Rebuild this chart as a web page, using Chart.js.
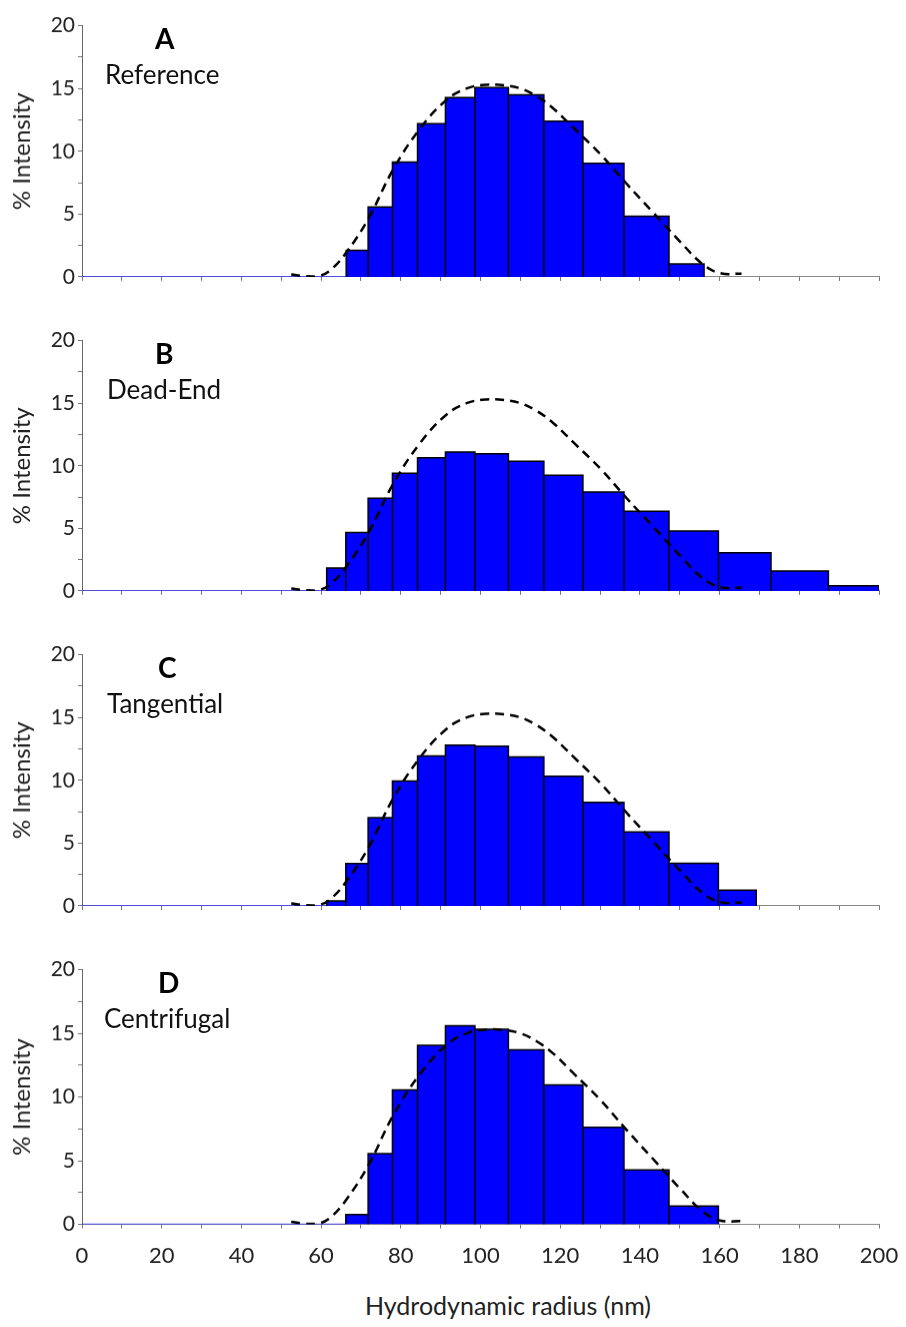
<!DOCTYPE html>
<html>
<head>
<meta charset="utf-8">
<script src="https://cdn.jsdelivr.net/npm/chart.js@4"></script>
<style>
  body { margin: 0; background: #fff; font-family: Lato, "Open Sans", sans-serif; }
  #page { position: relative; width: 906px; height: 1327px; }
  .panel { position: absolute; left: 0; width: 906px; }
  .letter { position: absolute; font-weight: bold; font-size: 28px; color: #000; line-height: 32px; }
  .name { position: absolute; font-size: 26px; color: #111; line-height: 32px; }
  .xtitle { position: absolute; left: 308px; width: 400px; top: 1290px; text-align: center;
            font-size: 25px; color: #222; line-height: 30px; }
</style>
</head>
<body>
<div id="page"></div>
<script>
// bin edges (nm) and % intensity per panel
const edgesA = [66.3, 71.8, 77.9, 84.2, 91.2, 98.6, 107.0, 115.9, 125.7, 136.0, 147.3, 156.1];
const valuesA = [2.1, 5.56, 9.15, 12.2, 14.28, 15.08, 14.5, 12.4, 9.05, 4.82, 1.03];

const edgesB = [61.4, 66.2, 71.8, 77.9, 84.2, 91.2, 98.6, 107.0, 115.9, 125.7, 136.0, 147.3, 159.7, 172.9, 187.3, 200];
const valuesB = [1.82, 4.67, 7.4, 9.41, 10.64, 11.1, 10.95, 10.35, 9.25, 7.91, 6.37, 4.78, 3.05, 1.59, 0.41];

const edgesC = [61.4, 66.2, 71.8, 77.9, 84.2, 91.2, 98.6, 107.0, 115.9, 125.7, 136.0, 147.3, 159.7, 169.2];
const valuesC = [0.39, 3.37, 7.02, 9.95, 11.93, 12.8, 12.72, 11.85, 10.31, 8.25, 5.89, 3.39, 1.26];

const edgesD = [66.2, 71.8, 77.9, 84.2, 91.2, 98.6, 107.0, 115.9, 125.7, 136.0, 147.3, 159.7];
const valuesD = [0.77, 5.55, 10.56, 14.06, 15.6, 15.32, 13.7, 10.95, 7.63, 4.27, 1.44];

// dashed reference distribution
const refX = [52.5, 56, 59.7, 62.2, 66.0, 71.8, 78.0, 84.8, 91.5, 96.5, 101.6, 106.0, 110.0, 114.0, 118.3, 123.2, 130.0, 136.7, 143.4, 150.1, 155.8, 160.1, 165.5];
const refY = [0.2, 0.05, 0.1, 0.5, 1.8, 4.6, 8.5, 11.8, 14.1, 15.0, 15.3, 15.25, 15.0, 14.4, 13.4, 11.9, 9.8, 7.4, 5.1, 2.8, 1.0, 0.3, 0.25];

const xTicks = [0, 20, 40, 60, 80, 100, 120, 140, 160, 180, 200];
const yTicks = [0, 5, 10, 15, 20];

const panels = [
  { letter: 'A', name: 'Reference', edges: edgesA, values: valuesA, top: 20 },
  { letter: 'B', name: 'Dead-End', edges: edgesB, values: valuesB, top: 334.8 },
  { letter: 'C', name: 'Tangential', edges: edgesC, values: valuesC, top: 649.2 },
  { letter: 'D', name: 'Centrifugal', edges: edgesD, values: valuesD, top: 964.2 }
];

const PLOT_H = 259.5;
const PAD_TOP = 10;
const FONT = 'Lato, "Open Sans", sans-serif';

// outline of adjacent histogram bars as one stepped path
function histPoints(edges, values) {
  const pts = [{ x: 0, y: 0 }, { x: edges[0], y: 0 }];
  values.forEach((v, i) => {
    pts.push({ x: edges[i], y: v });
    pts.push({ x: edges[i + 1], y: v });
    pts.push({ x: edges[i + 1], y: 0 });
  });
  return pts;
}

const page = document.getElementById('page');

panels.forEach((p, idx) => {
  const last = idx === panels.length - 1;
  const bottomH = last ? 60 : 12;
  const box = document.createElement('div');
  box.className = 'panel';
  box.style.top = (p.top - PAD_TOP) + 'px';
  box.style.height = (PAD_TOP + PLOT_H + bottomH) + 'px';
  const canvas = document.createElement('canvas');
  box.appendChild(canvas);
  page.appendChild(box);

  new Chart(canvas, {
    type: 'line',
    data: {
      datasets: [{
        data: refX.map((x, i) => ({ x, y: refY[i] })),
        borderColor: '#000',
        borderWidth: 2.5,
        borderDash: [9, 6],
        pointRadius: 0,
        tension: 0.4,
        fill: false,
        order: 0
      }, {
        data: histPoints(p.edges, p.values),
        borderColor: '#000',
        borderWidth: 1.5,
        backgroundColor: '#0000ff',
        pointRadius: 0,
        tension: 0,
        fill: 'origin',
        order: 1,
        segment: {
          borderColor: ctx => (ctx.p0.parsed.y === 0 && ctx.p1.parsed.y === 0) ? '#3a3aff' : '#000'
        }
      }]
    },
    options: {
      responsive: true,
      maintainAspectRatio: false,
      animation: false,
      layout: { padding: { top: PAD_TOP, right: 27, left: 0, bottom: 0 } },
      plugins: { legend: { display: false }, tooltip: { enabled: false } },
      scales: {
        x: {
          type: 'linear',
          min: 0, max: 200,
          afterFit: s => { s.height = bottomH; s.paddingLeft = 0; s.paddingRight = 0; },
          afterBuildTicks: s => {
            const t = [];
            for (let i = 0; i <= 20; i++) t.push({ value: i * 10 });
            s.ticks = t;
          },
          ticks: {
            display: last,
            autoSkip: false,
            maxRotation: 0,
            padding: 14,
            color: '#222',
            font: { family: FONT, size: 22 },
            callback: v => xTicks.includes(v) ? v : ''
          },
          grid: { drawOnChartArea: false, drawTicks: true, tickLength: 4, color: '#777' },
          border: { color: '#888', width: 1 }
        },
        y: {
          min: 0, max: 20,
          afterFit: s => { s.width = 82; },
          afterBuildTicks: s => {
            const t = [];
            for (let i = 0; i <= 8; i++) t.push({ value: i * 2.5 });
            s.ticks = t;
          },
          ticks: {
            autoSkip: false,
            padding: 3,
            color: '#222',
            font: { family: FONT, size: 21 },
            callback: v => yTicks.includes(v) ? v : ''
          },
          grid: { drawOnChartArea: false, drawTicks: true, tickLength: 4, color: '#777' },
          border: { color: '#666', width: 1 },
          title: {
            display: true,
            text: '% Intensity',
            color: '#222',
            font: { family: FONT, size: 24 },
            padding: { top: 8, bottom: 0 }
          }
        }
      }
    }
  });

  const letter = document.createElement('div');
  letter.className = 'letter';
  letter.textContent = p.letter;
  letter.style.left = (idx >= 2 ? 158 : 155) + 'px';
  letter.style.top = (p.top + 2) + 'px';
  page.appendChild(letter);

  const name = document.createElement('div');
  name.className = 'name';
  name.textContent = p.name;
  name.style.left = (idx === 3 ? 104 : (idx === 0 ? 105 : 107)) + 'px';
  name.style.top = (p.top + 38) + 'px';
  page.appendChild(name);
});

const xTitle = document.createElement('div');
xTitle.className = 'xtitle';
xTitle.textContent = 'Hydrodynamic radius (nm)';
page.appendChild(xTitle);
</script>
</body>
</html>
